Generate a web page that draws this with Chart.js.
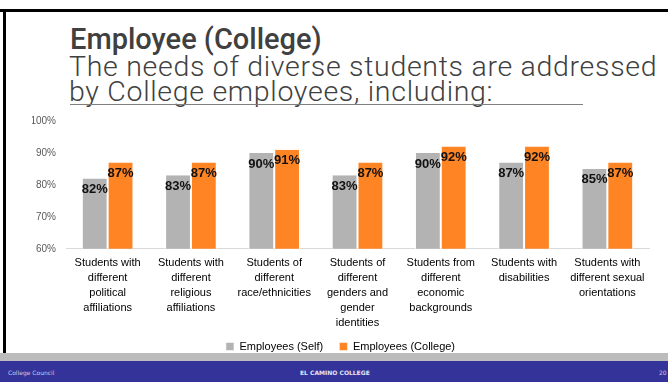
<!DOCTYPE html>
<html>
<head>
<meta charset="utf-8">
<script src="https://cdn.jsdelivr.net/npm/chart.js@4.4.1/dist/chart.umd.min.js"></script>
<style>
  html, body { margin: 0; padding: 0; background: #fff; }
  body { width: 668px; height: 382px; position: relative; overflow: hidden; font-family: "Roboto", sans-serif; }
  .top-rule { position: absolute; left: 0; top: 9px; width: 668px; height: 3px; background: #000; }
  .left-rule { position: absolute; left: 3px; top: 9px; width: 3px; height: 344px; background: #000; }
  .title { position: absolute; left: 70px; top: 22px; font-size: 29px; font-weight: 500; color: #404040; white-space: nowrap; }
  .sub { position: absolute; left: 69px; font-size: 28.5px; font-weight: 300; letter-spacing: 0.7px; color: #404040; white-space: nowrap; }
  .sub1 { top: 50px; }
  .sub2 { top: 75px; }
  .underline { position: absolute; left: 70px; top: 104px; width: 513px; height: 1px; background: #7f7f7f; }
  .chart-box { position: absolute; left: 10px; top: 105px; width: 650px; height: 257px; }
  .band { position: absolute; left: 0; top: 353px; width: 668px; height: 8px; background: #bcbcbc; }
  .footer { position: absolute; left: 0; top: 361px; width: 668px; height: 21px; background: #333399; }
  .footer span { position: absolute; top: 8px; font-family: "DejaVu Sans", sans-serif; font-size: 6px; color: #c9c9e8; }
</style>
</head>
<body>
<div class="top-rule"></div>
<div class="left-rule"></div>
<div class="title">Employee (College)</div>
<div class="sub sub1">The needs of diverse students are addressed</div>
<div class="sub sub2">by College employees, including:</div>
<div class="underline"></div>
<div class="chart-box"><canvas id="needsChart" width="650" height="257"></canvas></div>
<div class="band"></div>
<div class="footer">
  <span style="left:8px">College Council</span>
  <span style="left:300px; font-weight:bold; color:#e6e6f5">EL CAMINO COLLEGE</span>
  <span style="left:659px">20</span>
</div>

<script>
// categories, wrapped over several lines for the x axis
const categories = [
  ["Students with", "different", "political", "affiliations"],
  ["Students with", "different", "religious", "affiliations"],
  ["Students of", "different", "race/ethnicities"],
  ["Students of", "different", "genders and", "gender", "identities"],
  ["Students from", "different", "economic", "backgrounds"],
  ["Students with", "disabilities"],
  ["Students with", "different sexual", "orientations"]
];
const selfValues = [82, 83, 90, 83, 90, 87, 85];
const collegeValues = [87, 87, 91, 87, 92, 92, 87];
const seriesNames = ["Employees (Self)", "Employees (College)"];
const yMin = 60, yMax = 100, yStep = 10;

// percentage labels drawn just inside the top of each bar
const barLabels = {
  id: "barLabels",
  afterDatasetsDraw(chart) {
    const ctx = chart.ctx;
    ctx.save();
    ctx.font = "bold 13px 'Liberation Sans', sans-serif";
    ctx.fillStyle = "#111";
    ctx.textAlign = "center";
    ctx.textBaseline = "middle";
    chart.data.datasets.forEach((ds, i) => {
      chart.getDatasetMeta(i).data.forEach((bar, j) => {
        ctx.fillText(ds.data[j] + "%", bar.x, bar.y + 11);
      });
    });
    ctx.restore();
  }
};

new Chart(document.getElementById("needsChart"), {
  type: "bar",
  data: {
    labels: categories,
    datasets: [
      {
        label: seriesNames[0],
        data: selfValues,
        backgroundColor: "#b3b3b3",
        borderColor: "#ffffff",
        borderWidth: { left: 1, right: 1 },
        borderSkipped: "bottom",
        barPercentage: 1,
        categoryPercentage: 0.62
      },
      {
        label: seriesNames[1],
        data: collegeValues,
        backgroundColor: "#fe8424",
        borderColor: "#ffffff",
        borderWidth: { left: 1, right: 1 },
        borderSkipped: "bottom",
        barPercentage: 1,
        categoryPercentage: 0.62
      }
    ]
  },
  options: {
    responsive: false,
    animation: false,
    layout: { padding: { top: 3, right: 11, left: 22, bottom: 0 } },
    scales: {
      y: {
        min: yMin,
        max: yMax,
        grid: { display: false, drawTicks: false },
        border: { display: false },
        ticks: {
          stepSize: yStep,
          padding: 10,
          color: "#595959",
          font: { family: "'Liberation Sans', sans-serif", size: 10 },
          callback: (v) => v + "%"
        },
        afterFit(scale) { scale.width = 34; }
      },
      x: {
        grid: { display: false, drawTicks: false },
        border: { color: "#d9d9d9", width: 1 },
        ticks: {
          padding: 7,
          maxRotation: 0,
          autoSkip: false,
          color: "#000",
          font: { family: "'Liberation Sans', sans-serif", size: 11, lineHeight: 1.35 }
        }
      }
    },
    plugins: {
      legend: {
        position: "bottom",
        labels: {
          boxWidth: 8,
          boxHeight: 8,
          padding: 4,
          color: "#000",
          font: { family: "'Liberation Sans', sans-serif", size: 11 },
          // a little extra room after the first entry
          generateLabels(chart) {
            const items = Chart.defaults.plugins.legend.labels.generateLabels(chart);
            items.forEach((it, i) => {
              if (i < items.length - 1) it.text += "    ";
            });
            return items;
          }
        }
      },
      tooltip: { enabled: false }
    }
  },
  plugins: [barLabels]
});
</script>
</body>
</html>
